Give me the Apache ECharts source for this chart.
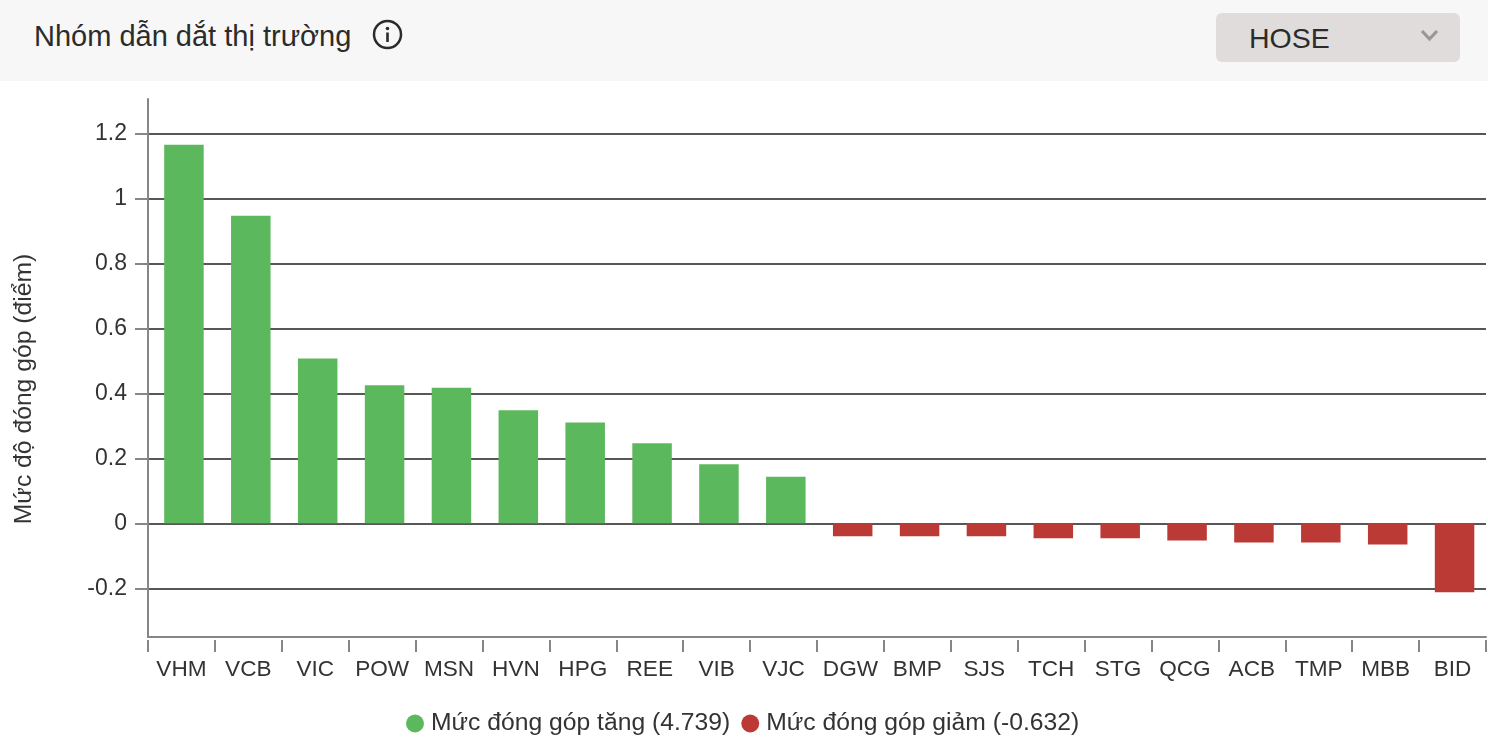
<!DOCTYPE html>
<html>
<head>
<meta charset="utf-8">
<title>Nhóm dẫn dắt thị trường</title>
<script src="https://cdn.jsdelivr.net/npm/echarts@6/dist/echarts.min.js"></script>
<style>
html, body { margin: 0; padding: 0; background: #fff; font-family: "Liberation Sans", Arial, sans-serif; }
.header { position: absolute; left: 0; top: 0; width: 1488px; height: 81px; background: #f7f7f7; }
.title { position: absolute; left: 34px; top: 19px; font-size: 29px; line-height: 34px; color: #2b2b2b; }
.info { position: absolute; left: 372px; top: 19px; }
.select { position: absolute; left: 1216px; top: 13px; width: 244px; height: 49px; background: #e0dcdc; border-radius: 6px; }
.select span { position: absolute; left: 33px; top: 7px; font-size: 28.5px; line-height: 36px; color: #2b2b2b; }
.select svg { position: absolute; left: 203px; top: 16px; }
#chart { position: absolute; left: 0; top: 0; width: 1488px; height: 737px; }
</style>
</head>
<body>
<div id="chart"></div>
<div class="header">
  <div class="title">Nhóm dẫn dắt thị trường</div>
  <svg class="info" width="31" height="31" viewBox="0 0 31 31">
    <circle cx="15.5" cy="15.5" r="13.5" fill="none" stroke="#2b2b2b" stroke-width="2.5"/>
    <circle cx="15.5" cy="9.5" r="1.8" fill="#2b2b2b"/>
    <rect x="14.2" y="13.5" width="2.6" height="9.5" fill="#2b2b2b"/>
  </svg>
  <div class="select">
    <span>HOSE</span>
    <svg width="22" height="14" viewBox="0 0 22 14"><path d="M3 2 L10.5 10 L18 2" fill="none" stroke="#9a9696" stroke-width="3.2"/></svg>
  </div>
</div>
<script>
// du lieu doc tu bieu do
const categories = ['VHM', 'VCB', 'VIC', 'POW', 'MSN', 'HVN', 'HPG', 'REE', 'VIB', 'VJC',
  'DGW', 'BMP', 'SJS', 'TCH', 'STG', 'QCG', 'ACB', 'TMP', 'MBB', 'BID']
const gainValues = [1.165, 0.947, 0.507, 0.425, 0.417, 0.348, 0.31, 0.246, 0.182, 0.143,
  null, null, null, null, null, null, null, null, null, null]
const lossValues = [null, null, null, null, null, null, null, null, null, null,
  -0.04, -0.04, -0.04, -0.046, -0.046, -0.053, -0.059, -0.059, -0.065, -0.212]
const yTicks = [-0.2, 0, 0.2, 0.4, 0.6, 0.8, 1, 1.2]

const FONT = '"Liberation Sans", Arial, sans-serif'
const yMin = -0.35
const yMax = 1.306

const chart = echarts.init(document.getElementById('chart'))
chart.setOption({
  animation: false,
  textStyle: { fontFamily: FONT },
  // grid thu 2 lech 2.5px de cot nam dung vi tri nhu anh goc
  grid: [
    { left: 148, right: 2, top: 99, bottom: 100 },
    { left: 150.5, right: -0.5, top: 99, bottom: 100 }
  ],
  legend: {
    left: 401,
    top: 706,
    icon: 'circle',
    itemWidth: 18,
    itemHeight: 18,
    itemGap: 11,
    textStyle: { fontFamily: FONT, fontSize: 24.7, color: '#333', padding: [0, 0, 0, 2] },
    data: ['Mức đóng góp tăng (4.739)', 'Mức đóng góp giảm (-0.632)']
  },
  graphic: [
    {
      type: 'text',
      x: 24,
      y: 389,
      rotation: Math.PI / 2,
      style: {
        text: 'Mức độ đóng góp (điểm)',
        font: '24.7px ' + FONT,
        fill: '#333',
        align: 'center',
        verticalAlign: 'middle'
      }
    }
  ],
  xAxis: [
    // chi ve duong truc
    {
      type: 'category',
      gridIndex: 0,
      data: categories,
      axisLine: { onZero: false, lineStyle: { color: '#868686', width: 2 } },
      axisTick: { show: false },
      axisLabel: { show: false }
    },
    // vach chia va nhan, cach duong truc 3px
    {
      type: 'category',
      gridIndex: 0,
      position: 'bottom',
      offset: 3,
      data: categories,
      axisLine: { show: false, onZero: false },
      axisTick: { show: true, length: 12, lineStyle: { color: '#868686', width: 2 } },
      axisLabel: { interval: 0, margin: 18, fontSize: 22.6, color: '#333', fontFamily: FONT }
    },
    // truc cua cac cot
    {
      type: 'category',
      gridIndex: 1,
      data: categories,
      axisLine: { show: false },
      axisTick: { show: false },
      axisLabel: { show: false }
    }
  ],
  yAxis: [
    {
      type: 'value',
      gridIndex: 0,
      min: yMin,
      max: yMax,
      axisLine: { show: true, lineStyle: { color: '#868686', width: 2 } },
      axisTick: { show: true, length: 13, lineStyle: { color: '#868686', width: 2 }, customValues: yTicks },
      axisLabel: { margin: 21, fontSize: 23, color: '#333', fontFamily: FONT, padding: [5, 0, 0, 0], customValues: yTicks },
      splitLine: { show: true, lineStyle: { color: '#575757', width: 2 } }
    },
    {
      type: 'value',
      gridIndex: 1,
      min: yMin,
      max: yMax,
      axisLine: { show: false },
      axisTick: { show: false },
      axisLabel: { show: false },
      splitLine: { show: false }
    }
  ],
  series: [
    {
      name: 'Mức đóng góp tăng (4.739)',
      type: 'bar',
      stack: 'total',
      xAxisIndex: 2,
      yAxisIndex: 1,
      barWidth: 39.5,
      itemStyle: { color: '#5cb85c' },
      data: gainValues
    },
    {
      name: 'Mức đóng góp giảm (-0.632)',
      type: 'bar',
      stack: 'total',
      xAxisIndex: 2,
      yAxisIndex: 1,
      barWidth: 39.5,
      itemStyle: { color: '#bc3a36' },
      data: lossValues
    }
  ]
})
</script>
</body>
</html>
